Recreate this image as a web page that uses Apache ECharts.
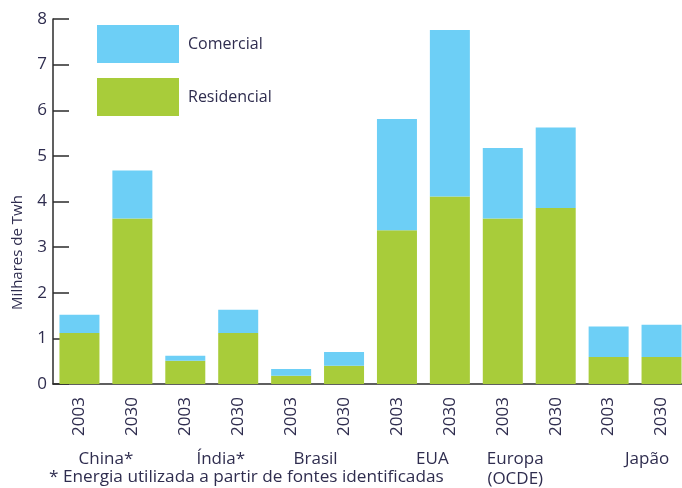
<!DOCTYPE html>
<html>
<head>
<meta charset="utf-8">
<script src="https://cdn.jsdelivr.net/npm/echarts@6/dist/echarts.min.js"></script>
<style>
html, body { margin: 0; padding: 0; background: #fff; }
#main { width: 682px; height: 488px; }
</style>
</head>
<body>
<div id="main"></div>
<script>
// anos de cada barra
var years = ['2003', '2030', '2003', '2030', '2003', '2030', '2003', '2030', '2003', '2030', '2003', '2030'];
// regiões (uma para cada par de barras)
var regions = ['China*', 'Índia*', 'Brasil', 'EUA', 'Europa\n(OCDE)', 'Japão'];
// milhares de TWh
var residencial = [1.12, 3.63, 0.51, 1.12, 0.18, 0.40, 3.37, 4.11, 3.63, 3.86, 0.59, 0.59];
var comercial = [0.40, 1.05, 0.11, 0.51, 0.15, 0.30, 2.44, 3.65, 1.54, 1.76, 0.67, 0.71];
var yTicks = [0, 1, 2, 3, 4, 5, 6, 7, 8];

var textColor = '#2f2d4f';
var axisColor = '#2b2b2b';
var font = 'Open Sans';
// deslocamento horizontal (px) dos nomes das regiões, como no original
var regionShift = [0, 9, -2, 9, -14, 12];

var Chart = {
	init : function() {
		var chart = echarts.init(document.getElementById('main'));
		chart.setOption(Chart.buildOption(), true);
	},

	regionLabels : function() {
		var out = [];
		for (var i = 0; i < regions.length; i++) {
			var s = regionShift[i];
			var pad = s >= 0 ? [0, 0, 0, 2 * s] : [0, -2 * s, 0, 0];
			out.push({
				value : regions[i],
				textStyle : { padding : pad }
			});
		}
		return out;
	},

	buildOption : function() {
		var option = {
			animation : false,
			textStyle : {
				fontFamily : font,
				color : textColor
			},
			title : {
				text : '* Energia utilizada a partir de fontes identificadas',
				left : 49,
				top : 469,
				padding : 0,
				textStyle : {
					fontFamily : font,
					fontSize : 17.2,
					fontWeight : 'normal',
					color : textColor
				}
			},
			legend : {
				data : ['Comercial', 'Residencial'],
				orient : 'vertical',
				left : 97,
				top : 25,
				padding : 0,
				itemWidth : 82,
				itemHeight : 38,
				itemGap : 15,
				icon : 'rect',
				textStyle : {
					fontFamily : font,
					fontSize : 16,
					color : textColor,
					padding : [8, 0, 0, 4]
				}
			},
			grid : {
				left : 53,
				top : 19,
				width : 635,
				height : 365,
				outerBoundsMode : 'none',
				containLabel : false
			},
			xAxis : [ {
				type : 'category',
				data : years,
				axisLine : {
					lineStyle : { color : axisColor, width : 1.5 }
				},
				axisTick : {
					inside : true,
					length : 8,
					lineStyle : { color : axisColor, width : 1.5 }
				},
				axisLabel : {
					rotate : 90,
					margin : 13,
					fontSize : 17,
					fontFamily : font,
					color : textColor
				}
			}, {
				type : 'category',
				position : 'bottom',
				offset : 57,
				data : Chart.regionLabels(),
				axisLine : { show : false },
				axisTick : { show : false },
				axisLabel : {
					margin : 8,
					fontSize : 17,
					lineHeight : 20,
					fontFamily : font,
					color : textColor
				}
			} ],
			yAxis : {
				type : 'value',
				min : yTicks[0],
				max : yTicks[yTicks.length - 1],
				interval : 1,
				name : 'Milhares de Twh',
				nameLocation : 'middle',
				nameGap : 28,
				nameTextStyle : {
					fontFamily : font,
					fontSize : 15,
					color : textColor,
					padding : [0, 102, 0, 0]
				},
				axisLine : {
					show : true,
					lineStyle : { color : axisColor, width : 1.5 }
				},
				axisTick : {
					show : true,
					inside : true,
					length : 16,
					lineStyle : { color : axisColor, width : 1.5 }
				},
				axisLabel : {
					margin : 6,
					fontSize : 17,
					fontFamily : font,
					color : textColor
				},
				splitLine : { show : false }
			},
			series : [ {
				name : 'Residencial',
				type : 'bar',
				stack : 'total',
				barWidth : 40,
				itemStyle : { color : '#a8cc3a' },
				data : residencial
			}, {
				name : 'Comercial',
				type : 'bar',
				stack : 'total',
				barWidth : 40,
				itemStyle : { color : '#6dcff6' },
				data : comercial
			} ]
		};
		return option;
	}
};

Chart.init();
</script>
</body>
</html>
